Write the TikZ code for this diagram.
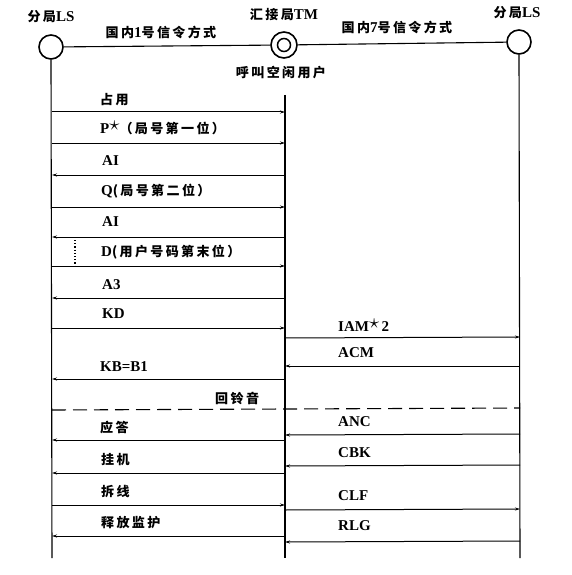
\documentclass[tikz,border=0pt]{standalone}
\usepackage{fontspec}
\setmainfont{Liberation Serif}
\newfontfamily\cjk[LetterSpace=18,Scale=0.87]{Noto Sans CJK SC}
\usetikzlibrary{arrows.meta}
\newcommand{\mystar}{\raisebox{3pt}{\fontsize{21}{21}\selectfont$\star$}}
\tikzset{
  life/.style={line width=1.1pt},
  msgr/.style={line width=1pt,-{Stealth[length=5pt,width=3pt]}},
  msgl/.style={line width=1pt,{Stealth[length=5pt,width=3pt]}-},
  lbl/.style={anchor=west,inner sep=0pt,font=\fontsize{15}{15}\selectfont\bfseries},
  hdr/.style={inner sep=0pt,font=\fontsize{15}{15}\selectfont\bfseries},
  station/.style={circle,draw,line width=1.6pt,minimum size=24pt,inner sep=0pt},
}
\begin{document}
\begin{tikzpicture}[x=1pt,y=-1pt]
\useasboundingbox (0,0) rectangle (572,575);
% stations
\node[station] (LS1) at (51,47) {};
\node[station,minimum size=26pt] (TM) at (284,45) {};
\node[circle,draw,line width=1.5pt,minimum size=13pt,inner sep=0pt] (TMi) at (TM) {};
\node[station] (LS2) at (519,42) {};
\node[hdr] (h1) at (51,17) {{\cjk 分局}LS};
\node[hdr] (h2) at (284,15) {{\cjk 汇接局}TM};
\node[hdr] (h3) at (517,13) {{\cjk 分局}LS};
\node[hdr] (t1) at (161,32) {{\cjk 国内}1{\cjk 号信令方式}};
\node[hdr] (t2) at (397,27) {{\cjk 国内}7{\cjk 号信令方式}};
\node[hdr] (t3) at (281,73) {\cjk 呼叫空闲用户};
\draw[line width=1.1pt] (LS1) -- (TM) -- (LS2);
% lifelines
\coordinate (Lb) at (52,558);
\coordinate (Mt) at (285,95);
\coordinate (Mb) at (285,558);
\coordinate (Rb) at (520,558);
\draw[life] (LS1.south) -- (Lb);
\draw[life] (Mt) -- (Mb);
\draw[life] (LS2.south) -- (Rb);
% left messages
\node[lbl] (m1) at (100,100) {\cjk 占用};
\draw[msgr] (Lb |- 0,112) -- (Mb |- 0,112);
\node[lbl] (m2) at (100,128) {P\mystar{\cjk （局号第一位）}};
\draw[msgr] (Lb |- 0,143) -- (Mb |- 0,143);
\node[lbl] (m3) at (102,161) {AI};
\draw[msgl] (Lb |- 0,175) -- (Mb |- 0,175);
\node[lbl] (m4) at (101,191) {Q{\cjk (局号第二位）}};
\draw[msgr] (Lb |- 0,207) -- (Mb |- 0,207);
\node[lbl] (m5) at (102,222) {AI};
\draw[msgl] (Lb |- 0,237) -- (Mb |- 0,237);
\node[lbl] (m6) at (101,252) {D{\cjk (用户号码第末位）}};
\draw[msgr] (Lb |- 0,266) -- (Mb |- 0,266);
\coordinate (d1) at (75,240);
\coordinate (d2) at (75,267);
\draw[line width=1.2pt,dotted] (d1) -- (d2);
\node[lbl] (m7) at (102,285) {A3};
\draw[msgl] (Lb |- 0,298) -- (Mb |- 0,298);
\node[lbl] (m8) at (102,314) {KD};
\draw[msgr] (Lb |- 0,328) -- (Mb |- 0,328);
\node[lbl] (m9) at (100,367) {KB=B1};
\draw[msgl] (Lb |- 0,379) -- (Mb |- 0,379);
\node[lbl] (m10) at (215,398) {\cjk 回铃音};
\draw[line width=1.1pt,dash pattern=on 14pt off 7pt] (Lb |- 0,410) -- (Rb |- 0,408);
\node[lbl] (m11) at (100,428) {\cjk 应答};
\draw[msgl] (Lb |- 0,440) -- (Mb |- 0,440);
\node[lbl] (m12) at (101,460) {\cjk 挂机};
\draw[msgl] (Lb |- 0,473) -- (Mb |- 0,473);
\node[lbl] (m13) at (101,492) {\cjk 拆线};
\draw[msgr] (Lb |- 0,505) -- (Mb |- 0,505);
\node[lbl] (m14) at (101,523) {\cjk 释放监护};
\draw[msgl] (Lb |- 0,536) -- (Mb |- 0,536);
% right messages
\node[lbl] (r1) at (338,325) {IAM\mystar\,2};
\draw[msgr] (Mb |- 0,338) -- (Rb |- 0,337);
\node[lbl] (r2) at (338,353) {ACM};
\draw[msgl] (Mb |- 0,366) -- (Rb |- 0,366);
\node[lbl] (r3) at (338,422) {ANC};
\draw[msgl] (Mb |- 0,435) -- (Rb |- 0,434);
\node[lbl] (r4) at (338,453) {CBK};
\draw[msgl] (Mb |- 0,466) -- (Rb |- 0,465);
\node[lbl] (r5) at (338,496) {CLF};
\draw[msgr] (Mb |- 0,510) -- (Rb |- 0,509);
\node[lbl] (r6) at (338,526) {RLG};
\draw[msgl] (Mb |- 0,542) -- (Rb |- 0,541);
\end{tikzpicture}
\end{document}
